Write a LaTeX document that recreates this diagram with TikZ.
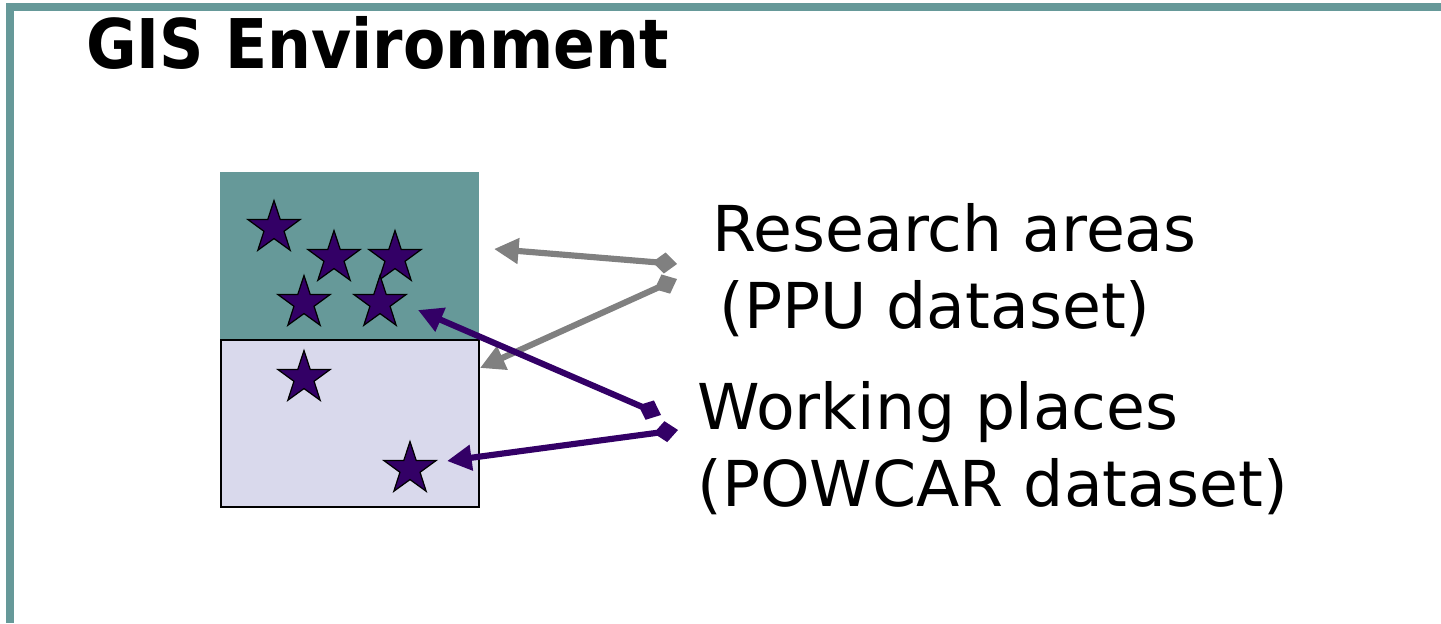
\documentclass[tikz,border=0pt]{standalone}
\usepackage{fontspec}
\setmainfont{DejaVu Sans}
\newfontfamily\titlefont{DejaVu Sans Condensed}
\usetikzlibrary{shapes.geometric, arrows.meta, positioning}
\definecolor{gisteal}{RGB}{102,153,153}
\definecolor{gislav}{RGB}{217,217,236}
\definecolor{gispurple}{RGB}{51,0,102}
\definecolor{gisgray}{RGB}{128,128,128}
\tikzset{
site/.style={star, star points=5, star point ratio=2.6, minimum size=1.1cm, inner sep=0pt, fill=gispurple, draw=black, line width=0.7pt}, % one star per place
label/.style={anchor=north west, align=left, inner sep=0pt, font=\fontsize{36}{44}\selectfont}, % the two captions
pointer/.style={line width=3.5pt, {Diamond[length=14pt,width=12pt]}-{Triangle[length=14pt,width=14pt]}}, % diamond at the caption end
}

\begin{document}
\begin{tikzpicture}[x=0.02cm, y=-0.02cm]
    \useasboundingbox (0,0) rectangle (1441,623);
    % frame
    \draw[gisteal, line width=4pt] (1441,7) -- (10,7) -- (10,623);
    \node[anchor=base west, inner sep=0pt, font=\titlefont\bfseries\fontsize{39}{42}\selectfont] (title) at (86,68) {GIS Environment};

    % the two layers
    \fill[gisteal] (220,172) rectangle (479,340);
    \draw[fill=gislav, line width=1.5pt] (221,340) rectangle (479,507);

    \node[site] (s1) at (274,228) {};
    \node[site] (s2) at (334,258) {};
    \node[site] (s3) at (395,258) {};
    \node[site] (s4) at (304,303) {};
    \node[site] (s5) at (380,303) {};
    \node[site] (s6) at (304,378) {};
    \node[site] (s7) at (410,469) {};

    \node[label] (research) at (712,203) {Research areas\\\hspace{4pt}(PPU dataset)};
    \node[label] (working) at (697,381) {Working places\\(POWCAR dataset)};

    % arrow ends
    \coordinate (r1) at (677,264);
    \coordinate (r2) at (677,279);
    \coordinate (w1) at (661,415);
    \coordinate (w2) at (678,430);
    \coordinate (upper) at (494,249);
    \coordinate (lower) at (480,368);
    \coordinate (near5) at (418,310);
    \coordinate (near7) at (447,461);

    \draw[pointer, gisgray] (r1) -- (upper);
    \draw[pointer, gisgray] (r2) -- (lower);
    \draw[pointer, gispurple] (w1) -- (near5);
    \draw[pointer, gispurple] (w2) -- (near7);
\end{tikzpicture}
\end{document}
